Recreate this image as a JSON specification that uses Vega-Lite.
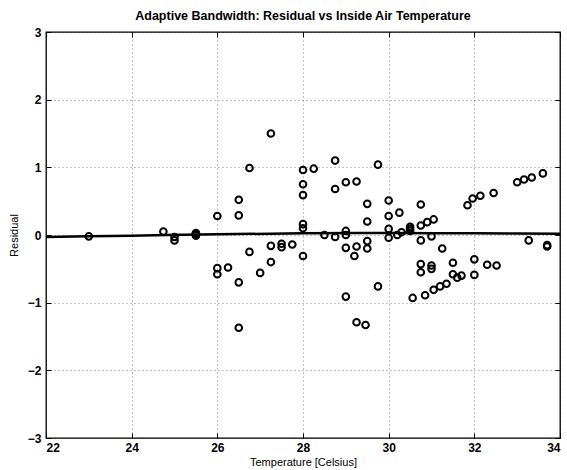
{
  "$schema": "https://vega.github.io/schema/vega-lite/v6.json",
  "autosize": "none",
  "width": 514,
  "height": 406,
  "padding": {"left": 46, "top": 32, "right": 7, "bottom": 32},
  "background": "white",
  "title": {"text": "Adaptive Bandwidth: Residual vs Inside Air Temperature", "font": "Liberation Sans", "fontSize": 12.5, "fontWeight": "bold", "color": "black", "offset": 4, "anchor": "middle"},
  "config": {
    "view": {"stroke": "black", "strokeWidth": 1.3},
    "axis": {"labelFont": "Liberation Sans", "labelFontSize": 12, "labelFontWeight": "bold", "labelColor": "black", "titleFont": "Liberation Sans", "titleFontSize": 11, "titleFontWeight": "normal", "titleColor": "black", "domain": false, "tickColor": "black", "tickSize": -5, "tickWidth": 1, "gridColor": "#000", "gridOpacity": 0.7, "gridDash": [1, 3], "gridWidth": 0.7}
  },
  "datasets": {
    "pts": [
      {"t": 23.0, "r": -0.02}, {"t": 24.74, "r": 0.05}, {"t": 25.0, "r": -0.03}, {"t": 25.0, "r": -0.08},
      {"t": 25.5, "r": 0.03}, {"t": 25.5, "r": 0.01}, {"t": 25.5, "r": -0.01}, {"t": 25.5, "r": 0.02},
      {"t": 26.0, "r": 0.28}, {"t": 26.0, "r": -0.49}, {"t": 26.0, "r": -0.58}, {"t": 26.25, "r": -0.48},
      {"t": 26.5, "r": 0.52}, {"t": 26.5, "r": 0.29}, {"t": 26.5, "r": -0.70}, {"t": 26.5, "r": -1.37},
      {"t": 26.75, "r": 0.99}, {"t": 26.75, "r": -0.25}, {"t": 27.0, "r": -0.56},
      {"t": 27.25, "r": 1.50}, {"t": 27.25, "r": -0.16}, {"t": 27.25, "r": -0.40},
      {"t": 27.5, "r": -0.13}, {"t": 27.5, "r": -0.18}, {"t": 27.75, "r": -0.14},
      {"t": 28.0, "r": 0.96}, {"t": 28.0, "r": 0.75}, {"t": 28.0, "r": 0.59}, {"t": 28.0, "r": 0.16}, {"t": 28.0, "r": 0.10}, {"t": 28.0, "r": -0.31},
      {"t": 28.25, "r": 0.98}, {"t": 28.5, "r": 0.0},
      {"t": 28.75, "r": 1.10}, {"t": 28.75, "r": 0.68}, {"t": 28.75, "r": -0.03},
      {"t": 29.0, "r": 0.78}, {"t": 29.0, "r": 0.06}, {"t": 29.0, "r": 0.0}, {"t": 29.0, "r": -0.19}, {"t": 29.0, "r": -0.91},
      {"t": 29.25, "r": 0.79}, {"t": 29.25, "r": -0.17}, {"t": 29.25, "r": -1.29}, {"t": 29.2, "r": -0.31},
      {"t": 29.5, "r": 0.46}, {"t": 29.5, "r": 0.20}, {"t": 29.5, "r": -0.09}, {"t": 29.5, "r": -0.20}, {"t": 29.46, "r": -1.33},
      {"t": 29.75, "r": 1.04}, {"t": 29.75, "r": -0.76},
      {"t": 30.0, "r": 0.51}, {"t": 30.0, "r": 0.28}, {"t": 30.0, "r": 0.09}, {"t": 30.0, "r": -0.04},
      {"t": 30.2, "r": 0.0}, {"t": 30.25, "r": 0.33}, {"t": 30.3, "r": 0.04},
      {"t": 30.5, "r": 0.12}, {"t": 30.5, "r": 0.06}, {"t": 30.5, "r": 0.09}, {"t": 30.56, "r": -0.93},
      {"t": 30.75, "r": 0.45}, {"t": 30.75, "r": 0.14}, {"t": 30.75, "r": -0.08}, {"t": 30.75, "r": -0.43}, {"t": 30.75, "r": -0.55},
      {"t": 30.85, "r": -0.89}, {"t": 30.9, "r": 0.19},
      {"t": 31.0, "r": -0.02}, {"t": 31.0, "r": -0.45}, {"t": 31.0, "r": -0.50},
      {"t": 31.05, "r": 0.23}, {"t": 31.05, "r": -0.81}, {"t": 31.2, "r": -0.76}, {"t": 31.25, "r": -0.20}, {"t": 31.35, "r": -0.72},
      {"t": 31.5, "r": -0.41}, {"t": 31.5, "r": -0.58}, {"t": 31.6, "r": -0.63}, {"t": 31.7, "r": -0.60},
      {"t": 31.84, "r": 0.44}, {"t": 31.96, "r": 0.54}, {"t": 32.0, "r": -0.36}, {"t": 32.0, "r": -0.59},
      {"t": 32.14, "r": 0.58}, {"t": 32.3, "r": -0.44}, {"t": 32.45, "r": 0.62}, {"t": 32.52, "r": -0.45},
      {"t": 33.0, "r": 0.78}, {"t": 33.16, "r": 0.82}, {"t": 33.34, "r": 0.85}, {"t": 33.27, "r": -0.08},
      {"t": 33.6, "r": 0.91}, {"t": 33.7, "r": -0.15}, {"t": 33.7, "r": -0.17}
    ],
    "fit": [
      {"t": 22, "r": -0.03}, {"t": 24, "r": -0.01}, {"t": 26, "r": 0.01}, {"t": 28, "r": 0.025},
      {"t": 30, "r": 0.03}, {"t": 32, "r": 0.025}, {"t": 34, "r": 0.02}
    ]
  },
  "layer": [
    {
      "data": {"name": "pts"},
      "mark": {"type": "point", "shape": "circle", "filled": false, "stroke": "black", "strokeWidth": 2, "size": 44, "opacity": 1},
      "encoding": {
        "x": {"field": "t", "type": "quantitative", "scale": {"domain": [22, 34], "nice": false, "zero": false},
          "axis": {"orient": "bottom", "title": "Temperature [Celsius]", "values": [22, 24, 26, 28, 30, 32, 34], "grid": true, "labelPadding": 9, "titlePadding": 3, "format": "d"}},
        "y": {"field": "r", "type": "quantitative", "scale": {"domain": [-3, 3], "nice": false, "zero": false},
          "axis": {"orient": "left", "title": "Residual", "values": [-3, -2, -1, 0, 1, 2, 3], "grid": true, "labelPadding": 10, "titlePadding": 8, "format": "d"}}
      }
    },
    {
      "data": {"name": "fit"},
      "mark": {"type": "line", "color": "black", "strokeWidth": 2.5, "interpolate": "monotone"},
      "encoding": {
        "x": {"field": "t", "type": "quantitative", "scale": {"domain": [22, 34], "nice": false, "zero": false},
          "axis": {"orient": "top", "title": null, "labels": false, "values": [22, 24, 26, 28, 30, 32, 34], "grid": false}},
        "y": {"field": "r", "type": "quantitative", "scale": {"domain": [-3, 3], "nice": false, "zero": false},
          "axis": {"orient": "right", "title": null, "labels": false, "values": [-3, -2, -1, 0, 1, 2, 3], "grid": false}}
      }
    }
  ],
  "resolve": {"axis": {"x": "independent", "y": "independent"}}
}
